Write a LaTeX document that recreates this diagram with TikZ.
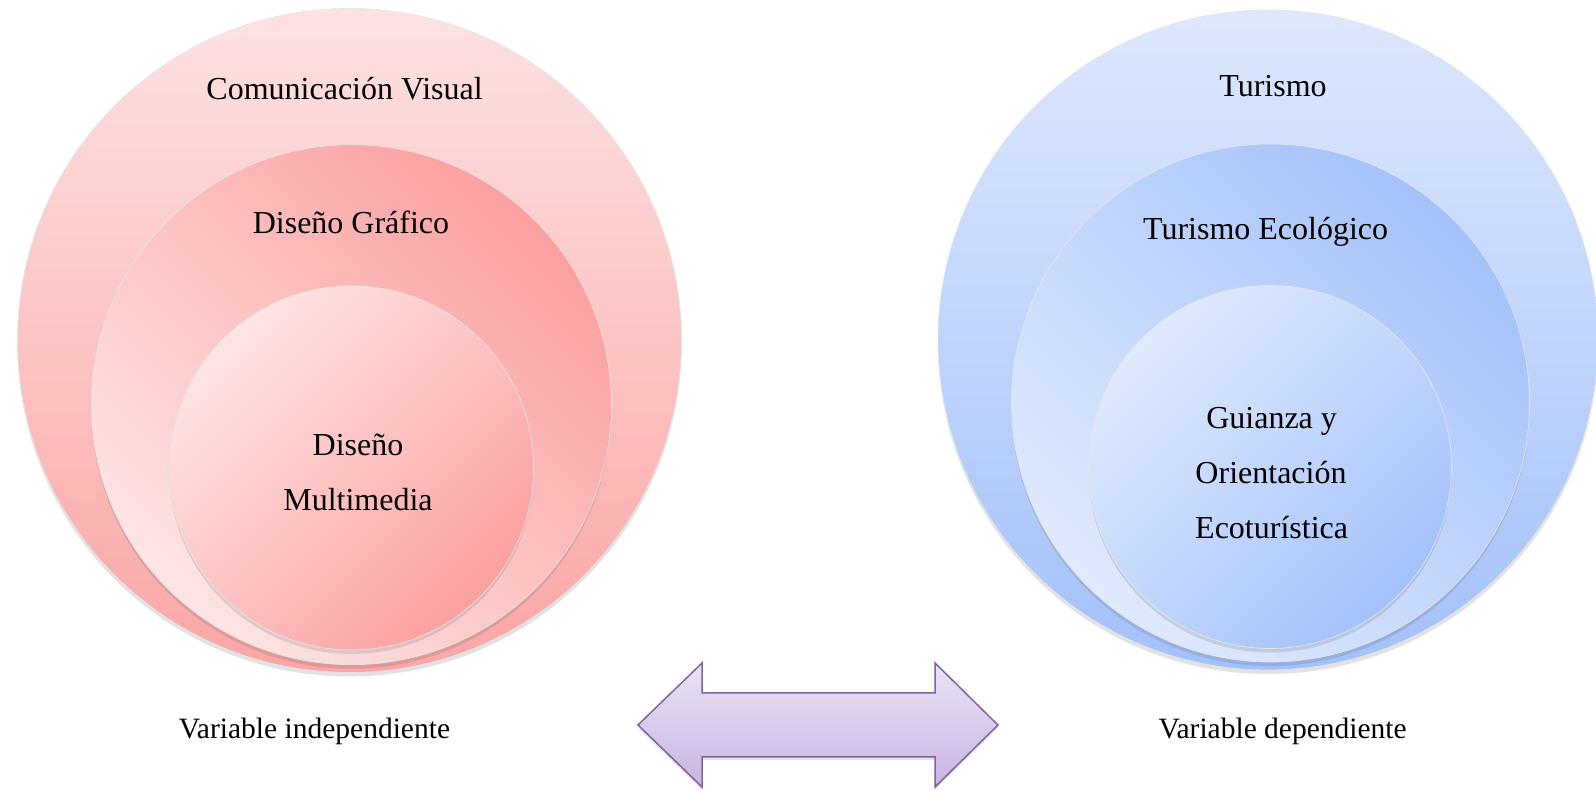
\documentclass[tikz,border=0pt]{standalone}
\usepackage{fontspec}
\setmainfont{Liberation Serif}
\usetikzlibrary{shadows}
\definecolor{pkA}{RGB}{253,226,226}
\definecolor{pkB}{RGB}{251,166,166}
\definecolor{pkC}{RGB}{252,160,160}
\definecolor{pkD}{RGB}{254,229,229}
\definecolor{blA}{RGB}{222,232,253}
\definecolor{blB}{RGB}{163,193,250}
\definecolor{blC}{RGB}{164,194,251}
\definecolor{blD}{RGB}{224,234,253}
\definecolor{arA}{RGB}{234,227,244}
\definecolor{arB}{RGB}{201,180,227}
\definecolor{arE}{RGB}{128,100,162}
\tikzset{
  ring/.style={circle, inner sep=0pt, draw=black!10, line width=0.7pt,
    drop shadow={shadow xshift=0pt, shadow yshift=-4pt, opacity=0.16, fill=black!70}},
  lbl/.style={anchor=base, inner sep=0pt, font=\fontsize{32}{38}\selectfont},
  sublbl/.style={anchor=base, inner sep=0pt, font=\fontsize{29.5}{35}\selectfont}
}
\begin{document}
\begin{tikzpicture}[x=1pt,y=1pt]
\useasboundingbox (0,0) rectangle (1596,791);
% left
\node[ring, minimum size=664pt, top color=pkA, bottom color=pkB] (lo) at (349.5,450.5) {};
\node[ring, minimum size=520pt, top color=pkC, bottom color=pkD, shading angle=-45] (lm) at (351.5,386.3) {};
\node[ring, minimum size=364pt, top color=pkD, bottom color=pkC, shading angle=45] (li) at (351.5,323) {};
\node[lbl] (t1) at (344.6,691) {Comunicación Visual};
\node[lbl] (t2) at (351,557) {Diseño Gráfico};
\node[lbl] (t3) at (358,335) {Diseño};
\node[lbl] (t4) at (358,280) {Multimedia};
% right
\node[ring, minimum size=660pt, top color=blA, bottom color=blB] (ro) at (1268,451) {};
\node[ring, minimum size=518pt, top color=blC, bottom color=blD, shading angle=-45] (rm) at (1270.5,388) {};
\node[ring, minimum size=363pt, top color=blD, bottom color=blC, shading angle=45] (ri) at (1270,324) {};
\node[lbl] (s1) at (1273,694) {Turismo};
\node[lbl] (s2) at (1265.6,551) {Turismo Ecológico};
\node[lbl] (s3) at (1271.6,362) {Guianza y};
\node[lbl] (s4) at (1271,307) {Orientación};
\node[lbl] (s5) at (1271.6,252) {Ecoturística};
% bottom labels
\node[sublbl] (v1) at (314.5,52) {Variable independiente};
\node[sublbl] (v2) at (1282.6,52) {Variable dependiente};
% double arrow
\path[top color=arA, bottom color=arB, draw=arE, line width=1.5pt, line join=miter,
  drop shadow={shadow xshift=0pt, shadow yshift=-3pt, opacity=0.15, fill=black!70}]
  (638,66) -- (702,128) -- (702,98) -- (935,98) -- (935,128) -- (998,66)
  -- (935,4) -- (935,34) -- (702,34) -- (702,4) -- cycle;
\end{tikzpicture}
\end{document}
